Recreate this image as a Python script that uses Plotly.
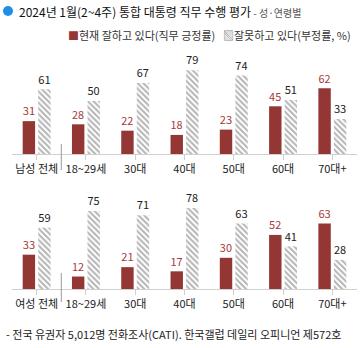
import plotly.graph_objects as go

categories_m = ["남성 전체", "18~29세", "30대", "40대", "50대", "60대", "70대+"]
categories_f = ["여성 전체", "18~29세", "30대", "40대", "50대", "60대", "70대+"]
approve_m = [31, 28, 22, 18, 23, 45, 62]
disapprove_m = [61, 50, 67, 79, 74, 51, 33]
approve_f = [33, 12, 21, 17, 30, 52, 63]
disapprove_f = [59, 75, 71, 78, 63, 41, 28]

FONT = "Noto Sans CJK KR"
RED = "#943634"
RED_TXT = "#a83a38"
GRAY = "#6a6a6a"
W, H = 364, 348

fig = go.Figure()

def add_pair(cats, a, d, xa, ya):
    fig.add_trace(go.Bar(
        x=list(range(len(cats))), y=a, xaxis=xa, yaxis=ya,
        marker=dict(color=RED, line=dict(width=0)),
        text=[str(v) for v in a], textposition="outside",
        textfont=dict(family=FONT, size=12, color=RED_TXT),
        cliponaxis=False, showlegend=False, hoverinfo="skip"))
    fig.add_trace(go.Bar(
        x=list(range(len(cats))), y=d, xaxis=xa, yaxis=ya,
        marker=dict(color="white", line=dict(width=0),
                    pattern=dict(shape="\\", fgcolor=GRAY, bgcolor="white",
                                 size=4, solidity=0.5)),
        text=[str(v) for v in d], textposition="outside",
        textfont=dict(family=FONT, size=12, color="#222"),
        cliponaxis=False, showlegend=False, hoverinfo="skip"))

add_pair(categories_m, approve_m, disapprove_m, "x", "y")
add_pair(categories_f, approve_f, disapprove_f, "x2", "y2")

xdom = [12 / W, 357 / W]
def py(px):
    return 1 - px / H

axis_x = dict(domain=xdom, range=[-0.5, 6.5], showgrid=False, zeroline=False,
              showline=True, linecolor="#d0d0d0", linewidth=1,
              ticks="outside", ticklen=5, tickcolor="#d0d0d0",
              tickfont=dict(family=FONT, size=11, color="#222"),
              tickmode="array", tickvals=list(range(7)), tickson="boundaries",
              fixedrange=True)

fig.update_layout(
    width=W, height=H, margin=dict(l=0, r=0, t=0, b=0),
    paper_bgcolor="white", plot_bgcolor="white",
    barmode="group", bargap=0.37, bargroupgap=0.2,
    font=dict(family=FONT),
    xaxis=dict(axis_x, ticktext=categories_m, anchor="y"),
    yaxis=dict(domain=[py(154), py(48)], range=[0, 100], visible=False, fixedrange=True),
    xaxis2=dict(axis_x, ticktext=categories_f, anchor="y2"),
    yaxis2=dict(domain=[py(289), py(185)], range=[0, 100], visible=False, fixedrange=True),
)

# separators between total and age groups
for y0, y1 in [(144, 170), (273, 302)]:
    fig.add_shape(type="line", xref="x", yref="paper", x0=0.5, x1=0.5,
                  y0=py(y1), y1=py(y0), line=dict(color="#999", width=1))

# title bullet
fig.add_shape(type="circle", xref="paper", yref="paper",
              x0=3 / W, x1=13 / W, y0=py(16), y1=py(6),
              fillcolor="#1e8fe6", line=dict(width=0))

fig.add_annotation(xref="paper", yref="paper", x=17 / W, y=py(11), xanchor="left", yanchor="middle",
                   showarrow=False,
                   text="2024년 1월(2~4주) 통합 대통령 직무 수행 평가<span style='font-size:10px;color:#555'> - 성·연령별</span>",
                   font=dict(family=FONT, size=12, color="#111"))

# legend
fig.add_annotation(xref="paper", yref="paper", x=66 / W, y=py(35), xanchor="left", yanchor="middle",
                   showarrow=False,
                   text="<span style='color:#943634'>■</span>현재 잘하고 있다(직무 긍정률)",
                   font=dict(family=FONT, size=11, color="#333"))
fig.add_annotation(xref="paper", yref="paper", x=221 / W, y=py(35), xanchor="left", yanchor="middle",
                   showarrow=False,
                   text="<span style='color:#888'>▧</span>잘못하고 있다(부정률, %)",
                   font=dict(family=FONT, size=11, color="#333"))

# footer
fig.add_annotation(xref="paper", yref="paper", x=4 / W, y=py(334), xanchor="left", yanchor="middle",
                   showarrow=False,
                   text="- 전국 유권자 5,012명 전화조사(CATI). 한국갤럽 데일리 오피니언 제572호",
                   font=dict(family=FONT, size=11, color="#222"))

fig.write_html("out.html", config={"displayModeBar": False})
